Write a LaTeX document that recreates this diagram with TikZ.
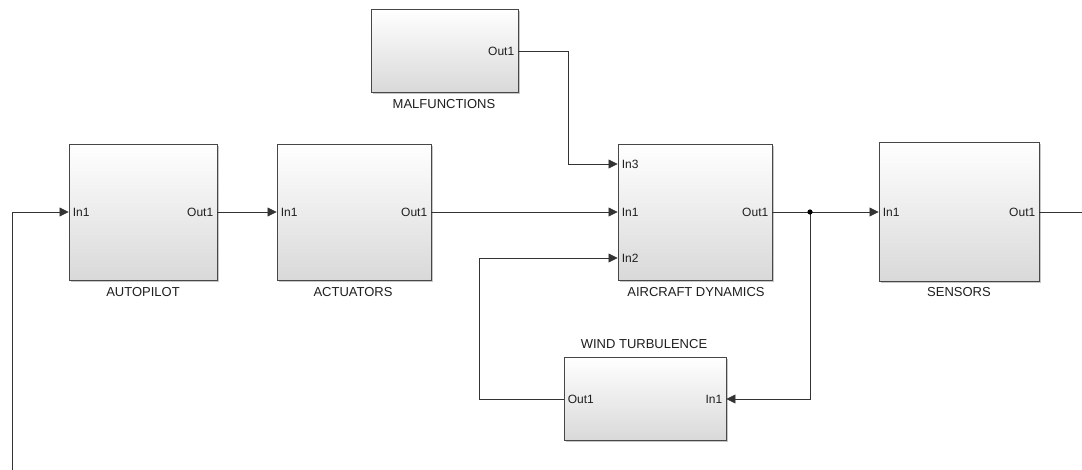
\documentclass[tikz,border=0pt]{standalone}
\usepackage{fontspec}
\setmainfont{Liberation Sans}
\usetikzlibrary{arrows.meta,shadows,calc}
\begin{document}
\begin{tikzpicture}[x=1pt,y=-1pt,
  blk/.style={draw=black!72, line width=0.9pt, rectangle, inner sep=0pt,
    top color=white, middle color=white, bottom color=black!15,
    drop shadow={shadow xshift=1.6pt, shadow yshift=-1.6pt, fill=black, opacity=0.22}},
  port/.style={font=\fontsize{12}{14}\selectfont, text=black!88, inner sep=0pt},
  lab/.style={font=\fontsize{13}{15}\selectfont, text=black!88, inner sep=0pt},
  conn/.style={draw=black!80, line width=0.7pt},
  arr/.style={conn, -{Triangle[length=9pt,width=9pt]}}]
\useasboundingbox (0,0) rectangle (1082,470);
\fill[white] (0,0) rectangle (1082,470);

% blocks
\node[blk, minimum width=147pt, minimum height=83pt] (mal) at (444.5,51) {};
\node[blk, minimum width=148pt, minimum height=136pt] (ap) at (143,212) {};
\node[blk, minimum width=154pt, minimum height=136pt] (act) at (354,212) {};
\node[blk, minimum width=154pt, minimum height=136pt] (ad) at (695,212) {};
\node[blk, minimum width=160pt, minimum height=139pt] (sen) at (959,212) {};
\node[blk, minimum width=162pt, minimum height=83pt] (wt) at (645,399) {};

% block names
\node[lab] (malL) at (444,104) {MALFUNCTIONS};
\node[lab] (apL) at (143,292) {AUTOPILOT};
\node[lab] (actL) at (353,292) {ACTUATORS};
\node[lab] (adL) at (696,292) {AIRCRAFT DYNAMICS};
\node[lab] (senL) at (959,292) {SENSORS};
\node[lab] (wtL) at (644,344) {WIND TURBULENCE};

% port positions
\coordinate (adIn3) at ($(ad.west)+(0,-48)$);
\coordinate (adIn2) at ($(ad.west)+(0,46)$);

% port labels
\node[port, anchor=east] (malO) at ($(mal.east)+(-4,0)$) {Out1};
\node[port, anchor=west] (apI) at ($(ap.west)+(4,0)$) {In1};
\node[port, anchor=east] (apO) at ($(ap.east)+(-4,0)$) {Out1};
\node[port, anchor=west] (actI) at ($(act.west)+(4,0)$) {In1};
\node[port, anchor=east] (actO) at ($(act.east)+(-4,0)$) {Out1};
\node[port, anchor=west] (adI3) at ($(adIn3)+(4,0)$) {In3};
\node[port, anchor=west] (adI1) at ($(ad.west)+(4,0)$) {In1};
\node[port, anchor=west] (adI2) at ($(adIn2)+(4,0)$) {In2};
\node[port, anchor=east] (adO) at ($(ad.east)+(-4,0)$) {Out1};
\node[port, anchor=west] (senI) at ($(sen.west)+(4,0)$) {In1};
\node[port, anchor=east] (senO) at ($(sen.east)+(-4,0)$) {Out1};
\node[port, anchor=west] (wtO) at ($(wt.west)+(4,0)$) {Out1};
\node[port, anchor=east] (wtI) at ($(wt.east)+(-4,0)$) {In1};

% free ends and bends
\coordinate (fbBottom) at (12,470);
\coordinate (senEnd) at (1082,212);
\coordinate (jn) at (810,212);
\coordinate (malBend) at (568,51);
\coordinate (wtBend) at (479,399);

% connectors
\draw[arr] (fbBottom) |- (ap.west);
\draw[arr] (ap.east) -- (act.west);
\draw[arr] (act.east) -- (ad.west);
\draw[arr] (mal.east) -- (malBend) |- (adIn3);
\draw[arr] (ad.east) -- (sen.west);
\draw[arr] (jn) |- (wt.east);
\draw[arr] (wt.west) -- (wtBend) |- (adIn2);
\draw[conn] (sen.east) -- (senEnd);
\fill[black] (jn) circle (2.6pt);
\end{tikzpicture}
\end{document}
